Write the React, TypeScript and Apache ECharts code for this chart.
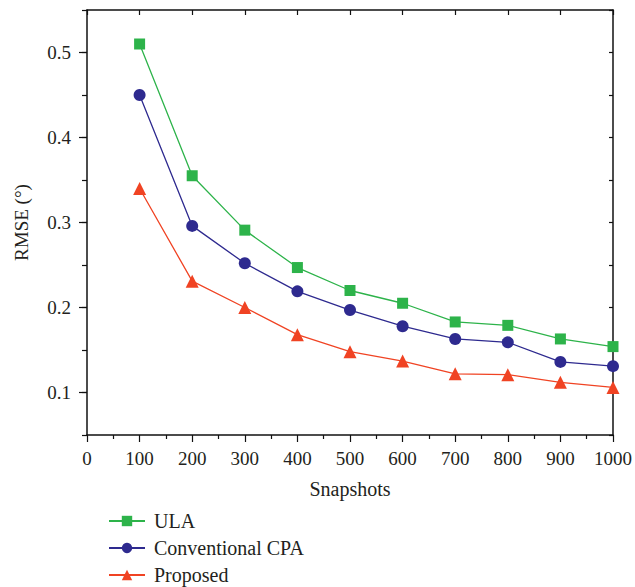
import React, { useEffect, useRef } from "react";
import * as echarts from "echarts";

const snapshots = [100, 200, 300, 400, 500, 600, 700, 800, 900, 1000];
const ulaValues = [0.51, 0.355, 0.291, 0.247, 0.22, 0.205, 0.183, 0.179, 0.163, 0.154];
const cpaValues = [0.45, 0.296, 0.252, 0.219, 0.197, 0.178, 0.163, 0.159, 0.136, 0.131];
const proposedValues = [0.34, 0.231, 0.2, 0.168, 0.148, 0.137, 0.122, 0.121, 0.112, 0.106];
const yMajorTicks = [0.1, 0.2, 0.3, 0.4, 0.5];
const seriesNames = ["ULA", "Conventional CPA", "Proposed"];

const FONT = "'Liberation Serif', 'DejaVu Serif', serif";
const TEXT_COLOR = "#231f20";

export default function App() {
  const ref = useRef<HTMLDivElement>(null);
  useEffect(() => {
    if (!ref.current) return;
    const chart = echarts.init(ref.current, undefined, { renderer: "svg" });
    const pair = (vals: number[]) => snapshots.map((s, i) => [s, vals[i]]);
    const axisLine = { show: true, lineStyle: { color: "#111", width: 1.5 } };
    const legendTops = [506, 533, 560];
    chart.setOption({
      animation: false,
      backgroundColor: "#fff",
      textStyle: { fontFamily: FONT },
      grid: { left: 87, right: 19, top: 10, bottom: 152, containLabel: false },
      xAxis: [
        {
          type: "value",
          min: 0,
          max: 1000,
          interval: 100,
          position: "bottom",
          name: "Snapshots",
          nameLocation: "middle",
          nameGap: 44,
          nameTextStyle: { fontFamily: FONT, fontSize: 20, color: TEXT_COLOR },
          axisLine,
          axisTick: { show: true, inside: false, length: 7, lineStyle: { color: "#111", width: 1.2 } },
          minorTick: { show: true, splitNumber: 2, length: 4, lineStyle: { color: "#111", width: 1.2 } },
          axisLabel: {
            fontFamily: FONT,
            fontSize: 19,
            color: TEXT_COLOR,
            margin: 14,
            formatter: (v: number) => String(v),
          },
          splitLine: { show: false },
        },
        {
          type: "value",
          min: 0,
          max: 1000,
          interval: 100,
          position: "top",
          axisLine,
          axisTick: { show: true, inside: true, length: 5, lineStyle: { color: "#111", width: 1.2 } },
          axisLabel: { show: false },
          splitLine: { show: false },
        },
      ],
      yAxis: [
        {
          type: "value",
          min: 0.05,
          max: 0.55,
          interval: 0.05,
          position: "left",
          name: "RMSE (°)",
          nameLocation: "middle",
          nameGap: 56,
          nameRotate: 90,
          nameTextStyle: { fontFamily: FONT, fontSize: 19, color: TEXT_COLOR },
          axisLine,
          axisTick: { show: true, inside: false, length: 5, lineStyle: { color: "#111", width: 1.2 } },
          axisLabel: {
            fontFamily: FONT,
            fontSize: 19,
            color: TEXT_COLOR,
            margin: 16,
            formatter: (v: number) =>
              Math.abs(v * 10 - Math.round(v * 10)) < 1e-6 ? v.toFixed(1) : "",
          },
          splitLine: { show: false },
        },
        {
          type: "value",
          min: 0.05,
          max: 0.55,
          position: "left",
          axisLine: { show: false },
          axisTick: {
            show: true,
            inside: false,
            length: 8,
            customValues: yMajorTicks,
            lineStyle: { color: "#111", width: 1.2 },
          },
          axisLabel: { show: false },
          splitLine: { show: false },
        },
        {
          type: "value",
          min: 0.05,
          max: 0.55,
          interval: 0.05,
          position: "right",
          axisLine,
          axisTick: { show: true, inside: true, length: 4, lineStyle: { color: "#111", width: 1.2 } },
          axisLabel: { show: false },
          splitLine: { show: false },
        },
      ],
      legend: seriesNames.map((name, i) => ({
        orient: "vertical",
        left: 103,
        top: legendTops[i],
        itemWidth: 36,
        itemHeight: 13,
        data: [name],
        textStyle: { fontFamily: FONT, fontSize: 20, color: TEXT_COLOR, padding: [0, 0, 0, 4] },
      })),
      series: [
        {
          name: seriesNames[0],
          type: "line",
          data: pair(ulaValues),
          symbol: "rect",
          symbolSize: 11,
          itemStyle: { color: "#2db34a" },
          lineStyle: { color: "#2db34a", width: 1.3 },
        },
        {
          name: seriesNames[1],
          type: "line",
          data: pair(cpaValues),
          symbol: "circle",
          symbolSize: 12,
          itemStyle: { color: "#2e2a8f" },
          lineStyle: { color: "#2e2a8f", width: 1.3 },
        },
        {
          name: seriesNames[2],
          type: "line",
          data: pair(proposedValues),
          symbol: "triangle",
          symbolSize: 13,
          itemStyle: { color: "#f04323" },
          lineStyle: { color: "#f04323", width: 1.3 },
        },
      ],
    });
    return () => chart.dispose();
  }, []);
  return (
    <div
      ref={ref}
      style={{ position: "fixed", left: 0, top: 0, width: 635, height: 587 }}
    />
  );
}
